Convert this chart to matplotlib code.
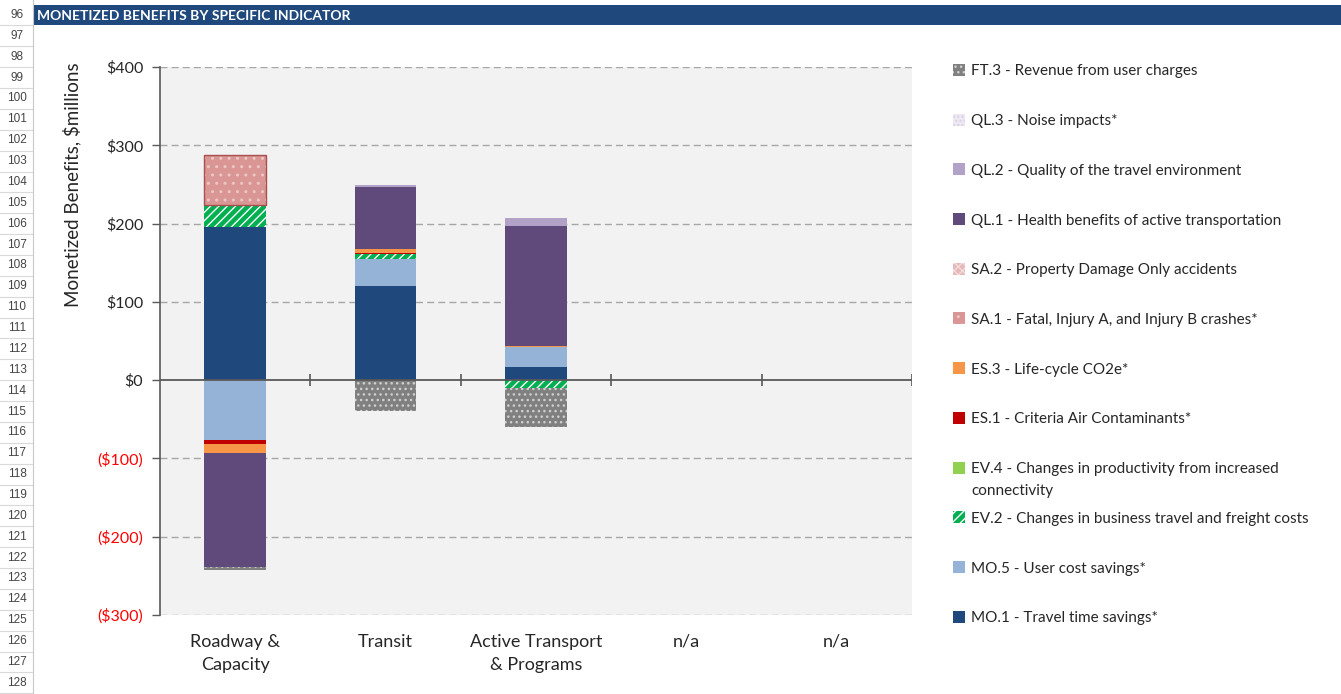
import numpy as np
import matplotlib
matplotlib.use("Agg")
import matplotlib.pyplot as plt
from matplotlib.patches import Rectangle
from matplotlib.transforms import blended_transform_factory

plt.rcParams["font.family"] = ["Lato", "DejaVu Sans"]
plt.rcParams["hatch.linewidth"] = 1.0

# categories (x axis)
categories = ["Roadway &\nCapacity", "Transit", "Active Transport\n& Programs", "n/a", "n/a"]

# series values, $ millions, in stacking order (bottom to top)
mo1 = [196, 120, 17, 0, 0]
mo5 = [-77, 35, 25, 0, 0]
ev2 = [28, 6, -10, 0, 0]
ev4 = [0, 0, 0, 0, 0]
es1 = [-4, 1, 0, 0, 0]
es3 = [-12, 5, 2, 0, 0]
sa1 = [63, 0, 0, 0, 0]
sa2 = [0, 0, 0, 0, 0]
ql1 = [-146, 80, 153, 0, 0]
ql2 = [0, 2, 10, 0, 0]
ql3 = [0, 0, 0, 0, 0]
ft3 = [-3, -39, -50, 0, 0]

labels = [
    "MO.1 - Travel time savings*",
    "MO.5 - User cost savings*",
    "EV.2 - Changes in business travel and freight costs",
    "EV.4 - Changes in productivity from increased\nconnectivity",
    "ES.1 - Criteria Air Contaminants*",
    "ES.3 - Life-cycle CO2e*",
    "SA.1 - Fatal, Injury A, and Injury B crashes*",
    "SA.2 - Property Damage Only accidents",
    "QL.1 - Health benefits of active transportation",
    "QL.2 - Quality of the travel environment",
    "QL.3 - Noise impacts*",
    "FT.3 - Revenue from user charges",
]
series = [mo1, mo5, ev2, ev4, es1, es3, sa1, sa2, ql1, ql2, ql3, ft3]

# (facecolor, hatch, hatch colour)
styles = [
    ("#1F497D", None, None),
    ("#95B3D7", None, None),
    ("#00B050", "////", "white"),
    ("#92D050", None, None),
    ("#C00000", None, None),
    ("#F79646", None, None),
    ("#DA9694", "..", "#EBC6C5"),
    ("#E6B9B8", "xxxx", "#F2DCDB"),
    ("#604A7B", None, None),
    ("#B3A2C7", None, None),
    ("#EDE8F2", "....", "#D9D0E3"),
    ("#808080", "...", "#D0D0D0"),
]

yticks = [-300, -200, -100, 0, 100, 200, 300, 400]

fig = plt.figure(figsize=(13.41, 6.94), dpi=100)
fig.patch.set_facecolor("white")

# spreadsheet row header column
row_h = 20.87
for i, r in enumerate(range(96, 129)):
    yc = 15 + i * row_h
    fig.text(17 / 1341, 1 - yc / 694, str(r), ha="center", va="center",
             fontsize=8.5, color="#444444", family=["Liberation Sans", "DejaVu Sans"])
    yl = 1 - (yc + row_h / 2) / 694
    fig.add_artist(plt.Line2D([0, 32 / 1341], [yl, yl], color="#D9D9D9", lw=0.8))
fig.add_artist(plt.Line2D([32.5 / 1341, 32.5 / 1341], [0, 1], color="#C8C8C8", lw=0.8))

# title bar
fig.add_artist(Rectangle((33 / 1341, 1 - 25 / 694), 1 - 33 / 1341, 20 / 694,
                         transform=fig.transFigure, facecolor="#1F497D", edgecolor="none"))
fig.text(37 / 1341, 1 - 15.5 / 694, "MONETIZED BENEFITS BY SPECIFIC INDICATOR",
         color="white", fontsize=10, fontweight="bold", va="center", ha="left")

ax = fig.add_axes([160 / 1341, 1 - 615 / 694, 752 / 1341, 548 / 694])
ax.set_facecolor("#F2F2F2")

x = np.arange(len(categories))
width = 0.41
pos_bottom = np.zeros(len(categories))
neg_bottom = np.zeros(len(categories))
for vals, (fc, hatch, hc) in zip(series, styles):
    v = np.array(vals, dtype=float)
    bottom = np.where(v >= 0, pos_bottom, neg_bottom)
    nz = v != 0
    ax.bar(x[nz], v[nz], width, bottom=bottom[nz], color=fc, hatch=hatch,
           edgecolor=hc if hatch else fc, linewidth=0, zorder=3)
    if fc == "#DA9694":
        ax.bar(x[nz], v[nz], width, bottom=bottom[nz], fill=False,
               edgecolor="#A94F4D", linewidth=1.0, zorder=4)
    pos_bottom += np.where(v > 0, v, 0)
    neg_bottom += np.where(v < 0, v, 0)

ax.set_xlim(-0.5, len(categories) - 0.5)
ax.set_ylim(-300, 400)
ax.set_yticks(yticks)
ax.set_yticklabels([f"${v}" if v >= 0 else f"(${-v})" for v in yticks], fontsize=11.5)
for lab, v in zip(ax.get_yticklabels(), yticks):
    lab.set_color("#FF0000" if v < 0 else "#262626")
ax.tick_params(axis="y", length=6, width=1, color="#595959", pad=6)

for v in yticks:
    if v != 0:
        ax.axhline(v, color="#A6A6A6", lw=1, ls=(0, (5, 3)), zorder=1)
ax.axhline(0, color="#595959", lw=1.3, zorder=5)

for s in ["top", "right", "bottom"]:
    ax.spines[s].set_visible(False)
ax.spines["left"].set_color("#595959")
ax.spines["left"].set_linewidth(1.2)

ax.set_xticks([])
# category boundary tick marks on the zero line
ax.vlines(np.arange(len(categories)) + 0.5, -8, 8, color="#595959", lw=1.2, zorder=5)

trans = blended_transform_factory(ax.transData, ax.transAxes)
for xi, c in zip(x, categories):
    ax.text(xi, -0.034, c, transform=trans, ha="center", va="top",
            fontsize=13, color="#262626", linespacing=1.6)

fig.text(72 / 1341, 1 - 185 / 694, "Monetized Benefits, $millions", rotation=90,
         ha="center", va="center", fontsize=13.5, color="#262626")

# legend drawn item by item (top: FT.3)
leg_y0 = 70
leg_step = 49.7
for i, (lab, (fc, hatch, hc)) in enumerate(zip(labels[::-1], styles[::-1])):
    yc = leg_y0 + i * leg_step
    fig.add_artist(Rectangle((953 / 1341, 1 - (yc + 6) / 694), 12 / 1341, 12 / 694,
                             transform=fig.transFigure, facecolor=fc, hatch=hatch,
                             edgecolor=hc if hatch else fc, linewidth=0))
    fig.text(971 / 1341, 1 - (yc - 5.5) / 694, lab, ha="left", va="top",
             fontsize=11, color="#262626", linespacing=1.7)

fig.savefig("out.png", dpi=100)
